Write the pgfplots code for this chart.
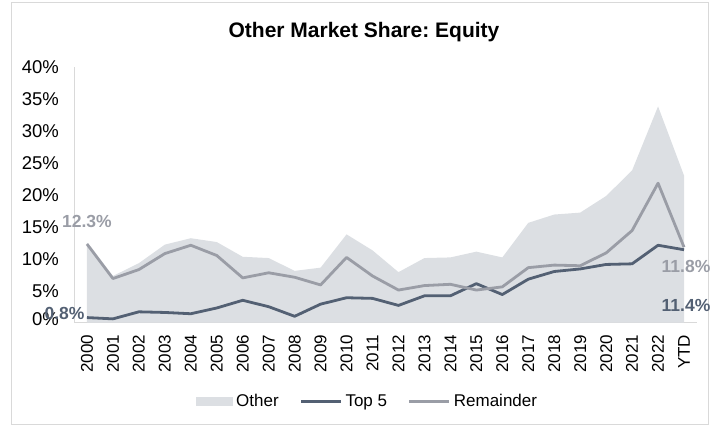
\documentclass[border=0pt]{standalone}
\usepackage{pgfplots}
\pgfplotsset{compat=1.18}
\usepackage{fontspec}
\setmainfont{Liberation Sans}
\frenchspacing
\definecolor{otherfill}{HTML}{DCDFE3}
\definecolor{topfive}{HTML}{536073}
\definecolor{remain}{HTML}{9A9DA6}
\definecolor{axisgray}{HTML}{D9D9D9}

\pgfplotstableread{
x other top remain
0 12.5 0.8 12.3
1 7.3 0.6 6.9
2 9.3 1.7 8.3
3 12.2 1.6 10.8
4 13.2 1.4 12.1
5 12.6 2.3 10.5
6 10.3 3.5 7.0
7 10.1 2.5 7.8
8 8.1 1.0 7.1
9 8.6 2.9 5.9
10 13.8 3.9 10.2
11 11.3 3.8 7.3
12 7.9 2.7 5.1
13 10.1 4.2 5.8
14 10.2 4.2 6.0
15 11.1 6.1 5.1
16 10.2 4.4 5.6
17 15.6 6.8 8.6
18 16.9 8.0 9.0
19 17.2 8.4 8.9
20 19.8 9.1 10.9
21 23.8 9.2 14.4
22 33.8 12.1 21.8
23 23.0 11.4 11.8
}\datatable

\begin{document}
\begin{tikzpicture}
\path[use as bounding box] (0,0) rectangle (720pt,428pt);
\draw[axisgray, line width=1pt] (11pt,3pt) rectangle (708pt,425pt);
\node[font=\fontsize{21}{25}\selectfont\bfseries] at (364pt,396pt) {Other Market Share: Equity};
\begin{axis}[
  at={(74pt,105.3pt)}, anchor=south west,
  scale only axis, width=623pt, height=256pt,
  clip=false,
  xmin=-0.5, xmax=23.5, ymin=0, ymax=40,
  axis x line*=bottom, axis y line*=left,
  axis line style={axisgray, line width=1pt, -},
  major tick length=0pt,
  xtick={0,...,23},
  xticklabels={2000,2001,2002,2003,2004,2005,2006,2007,2008,2009,2010,2011,2012,2013,2014,2015,2016,2017,2018,2019,2020,2021,2022,YTD},
  ytick={0,5,...,40},
  yticklabels={\raisebox{8pt}{0\%},5\%,10\%,15\%,20\%,25\%,30\%,35\%,40\%},
  x tick label style={rotate=90, anchor=east, inner sep=0pt, font=\fontsize{17}{20}\selectfont},
  xticklabel shift=12pt,
  y tick label style={anchor=east, inner sep=0pt, font=\fontsize{18.5}{21}\selectfont},
  yticklabel shift=15pt,
  legend columns=3,
  legend style={draw=none, fill=none, at={(0.1958,-0.3086)}, anchor=west, inner sep=0pt,
    font=\fontsize{17}{20}\selectfont, nodes={inner sep=0pt, text height=12.5pt, text depth=3.6pt},
    /tikz/every odd column/.append style={column sep=3pt},
    /tikz/every even column/.append style={column sep=21pt}},
]
\addplot[fill=otherfill, draw=none,
  legend image code/.code={\fill[otherfill] (0pt,-4.5pt) rectangle (37pt,4.5pt);}]
  table[x=x, y=other] {\datatable} \closedcycle;
\addlegendentry{Other}
\addplot[topfive, line width=2.8pt, line join=round,
  legend image code/.code={\draw[topfive, line width=2.8pt] (0pt,0pt) -- (40pt,0pt);}]
  table[x=x, y=top] {\datatable};
\addlegendentry{Top 5}
\addplot[remain, line width=2.8pt, line join=round,
  legend image code/.code={\draw[remain, line width=2.8pt] (0pt,0pt) -- (40pt,0pt);}]
  table[x=x, y=remain] {\datatable};
\addlegendentry{Remainder}
\node[font=\fontsize{17.5}{20}\selectfont\bfseries, text=remain] at (axis cs:0,12.3) [yshift=22pt] {12.3\%};
\node[font=\fontsize{17.5}{20}\selectfont\bfseries, text=topfive, anchor=east] at (axis cs:0,0.8) [xshift=1pt, yshift=4.5pt] {0.8\%};
\node[font=\fontsize{17.5}{20}\selectfont\bfseries, text=remain] at (axis cs:23,11.8) [xshift=2pt, yshift=-19.5pt] {11.8\%};
\node[font=\fontsize{17.5}{20}\selectfont\bfseries, text=topfive] at (axis cs:23,0) [xshift=2pt, yshift=17.7pt] {11.4\%};
\end{axis}
\end{tikzpicture}
\end{document}
